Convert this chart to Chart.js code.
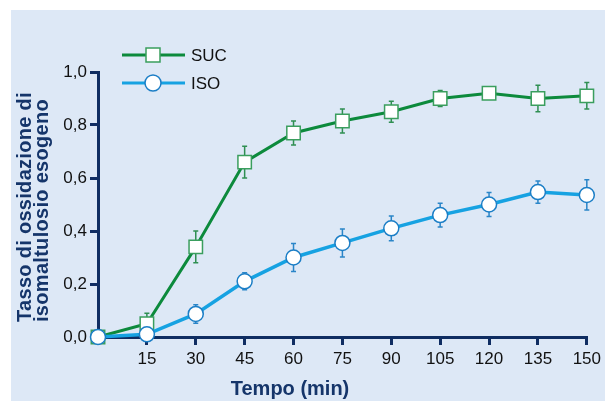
<!DOCTYPE html>
<html>
<head>
<meta charset="utf-8">
<script src="https://cdn.jsdelivr.net/npm/chart.js@4/dist/chart.umd.min.js"></script>
<style>
  html, body { margin: 0; padding: 0; background: #ffffff; }
  #wrap { position: relative; width: 605px; height: 401px; overflow: hidden; }
  #panel { position: absolute; left: 11px; top: 10px; right: 0; bottom: 0; background: #dde8f6; }
  #chart { position: absolute; left: 0; top: 0; }
</style>
</head>
<body>
<div id="wrap">
  <div id="panel"></div>
  <canvas id="chart" width="605" height="401"></canvas>
</div>
<script>
// time points (min)
const times = [0, 15, 30, 45, 60, 75, 90, 105, 120, 135, 150];

// oxidation rate, sucrose
const sucValues = [0, 0.05, 0.34, 0.66, 0.77, 0.815, 0.85, 0.90, 0.92, 0.90, 0.91];
const sucErr    = [0, 0.04, 0.06, 0.06, 0.045, 0.045, 0.04, 0.03, 0.015, 0.05, 0.05];

// oxidation rate, isomaltulose
const isoValues = [0, 0.01, 0.087, 0.21, 0.30, 0.355, 0.41, 0.46, 0.50, 0.547, 0.536];
const isoErr    = [0, 0, 0.035, 0.032, 0.053, 0.053, 0.047, 0.045, 0.045, 0.042, 0.057];

const seriesNames = ['SUC', 'ISO'];
const yTitle = ['Tasso di ossidazione di', 'isomaltulosio esogeno'];
const xTitle = 'Tempo (min)';

const NAVY = '#0f2d62';
const TITLE = '#15356a';
const GREEN = '#0c8a3c';
const GREEN_MK = '#3a9e5e';
const BLUE = '#16a2e2';
const BLUE_MK = '#1b7ec6';

// error bars under the markers
const errorBars = {
  id: 'errorBars',
  beforeDatasetsDraw(chart) {
    const ctx = chart.ctx;
    const x = chart.scales.x, y = chart.scales.y;
    chart.data.datasets.forEach(ds => {
      ctx.save();
      ctx.strokeStyle = ds.errColor;
      ctx.lineWidth = 1.5;
      ds.data.forEach((p, i) => {
        const e = ds.errors[i];
        if (!e) return;
        const px = x.getPixelForValue(p.x);
        const top = y.getPixelForValue(p.y + e);
        const bot = y.getPixelForValue(p.y - e);
        ctx.beginPath();
        ctx.moveTo(px, top); ctx.lineTo(px, bot);
        ctx.moveTo(px - 2.5, top); ctx.lineTo(px + 2.5, top);
        ctx.moveTo(px - 2.5, bot); ctx.lineTo(px + 2.5, bot);
        ctx.stroke();
      });
      ctx.restore();
    });
  }
};

// legend and axis titles
const labels = {
  id: 'labels',
  afterDraw(chart) {
    const ctx = chart.ctx;
    ctx.save();

    // legend
    const rows = [
      { y: 55, line: GREEN, mk: GREEN_MK, shape: 'rect' },
      { y: 83, line: BLUE, mk: BLUE_MK, shape: 'circle' }
    ];
    rows.forEach((r, i) => {
      ctx.strokeStyle = r.line;
      ctx.lineWidth = 3;
      ctx.beginPath();
      ctx.moveTo(122, r.y); ctx.lineTo(185, r.y);
      ctx.stroke();
      ctx.fillStyle = '#ffffff';
      ctx.strokeStyle = r.mk;
      ctx.lineWidth = 1.5;
      ctx.beginPath();
      if (r.shape === 'rect') ctx.rect(146, r.y - 7, 14, 14);
      else ctx.arc(153, r.y, 8, 0, Math.PI * 2);
      ctx.fill();
      ctx.stroke();
      ctx.fillStyle = '#111111';
      ctx.font = '17px "Liberation Sans Narrow", "Liberation Sans", Arial, sans-serif';
      ctx.textBaseline = 'middle';
      ctx.textAlign = 'left';
      ctx.fillText(seriesNames[i], 191, r.y + 1);
    });

    // x title
    ctx.fillStyle = TITLE;
    ctx.font = 'bold 20px "Liberation Sans", Arial, sans-serif';
    ctx.textAlign = 'center';
    ctx.textBaseline = 'alphabetic';
    ctx.fillText(xTitle, 290, 395);

    // y title (two lines, rotated)
    ctx.translate(31, 322);
    ctx.rotate(-Math.PI / 2);
    ctx.textAlign = 'left';
    ctx.font = 'bold 20px "Liberation Sans", Arial, sans-serif';
    ctx.letterSpacing = '0.3px';
    ctx.fillText(yTitle[0], 0, 0);
    ctx.fillText(yTitle[1], 0, 17);
    ctx.restore();
  }
};

const ctx = document.getElementById('chart').getContext('2d');

new Chart(ctx, {
  type: 'line',
  data: {
    datasets: [
      {
        label: seriesNames[0],
        data: times.map((t, i) => ({ x: t, y: sucValues[i] })),
        errors: sucErr,
        errColor: '#2f8f52',
        borderColor: GREEN,
        borderWidth: 3,
        tension: 0,
        pointStyle: 'rect',
        pointRadius: 9.5,
        pointBackgroundColor: '#ffffff',
        pointBorderColor: GREEN_MK,
        pointBorderWidth: 1.5,
        clip: false,
        order: 1
      },
      {
        label: seriesNames[1],
        data: times.map((t, i) => ({ x: t, y: isoValues[i] })),
        errors: isoErr,
        errColor: '#2a85c8',
        borderColor: BLUE,
        borderWidth: 3.5,
        tension: 0,
        pointStyle: 'circle',
        pointRadius: 7.5,
        pointBackgroundColor: '#ffffff',
        pointBorderColor: BLUE_MK,
        pointBorderWidth: 1.5,
        clip: false,
        order: 0
      }
    ]
  },
  options: {
    responsive: false,
    animation: false,
    devicePixelRatio: 1,
    layout: { padding: { left: 0, top: 72, right: 17, bottom: 0 } },
    plugins: {
      legend: { display: false },
      tooltip: { enabled: false }
    },
    scales: {
      x: {
        type: 'linear',
        min: 0,
        max: 150,
        afterFit: s => { s.height = 64; },
        border: { color: NAVY, width: 3 },
        grid: { drawOnChartArea: false, tickLength: 8, tickColor: NAVY, tickWidth: 3, lineWidth: 3 },
        ticks: {
          stepSize: 15,
          padding: 4,
          color: '#111111',
          font: { family: '"Liberation Sans", Arial, sans-serif', size: 17 },
          callback: v => (v === 0 ? '' : String(v))
        }
      },
      y: {
        min: 0,
        max: 1,
        afterFit: s => { s.width = 98; },
        border: { color: NAVY, width: 3 },
        grid: { drawOnChartArea: false, tickLength: 8, tickColor: NAVY, tickWidth: 3, lineWidth: 3 },
        ticks: {
          stepSize: 0.2,
          padding: 3,
          color: '#111111',
          font: { family: '"Liberation Sans", Arial, sans-serif', size: 17 },
          callback: v => v.toFixed(1).replace('.', ',')
        }
      }
    }
  },
  plugins: [errorBars, labels]
});
</script>
</body>
</html>
